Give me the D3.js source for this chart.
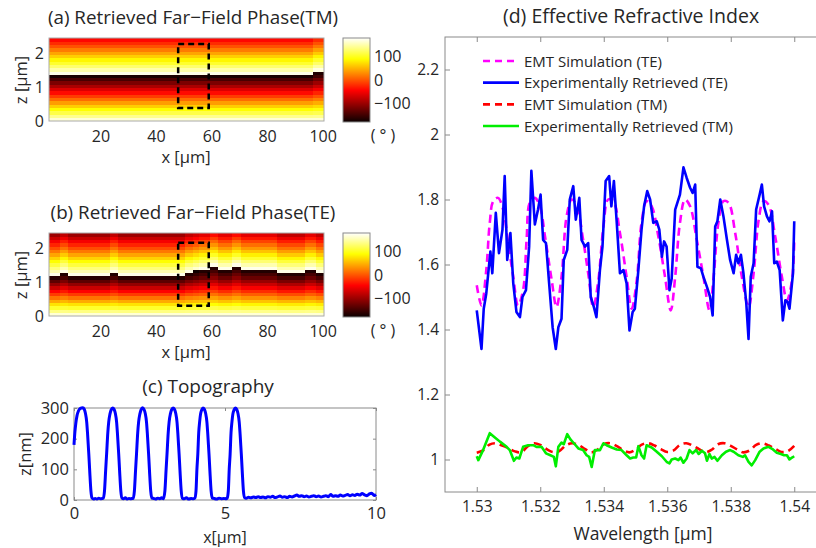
<!DOCTYPE html>
<html>
<head>
<meta charset="utf-8">
<script src="https://cdn.jsdelivr.net/npm/d3@7"></script>
<style>
  body { margin: 0; background: #fff; }
  svg { display: block; font-family: "Open Sans", sans-serif; }
</style>
</head>
<body>
<svg id="fig" width="816" height="548"></svg>
<script>
// ---------- data ----------
// far-field phase rows (degrees), bottom row (z = 0) first
const phaseRowsTM = [165, 140, 115, 90, 64, 38, 12, -14, -40, -65, -92, -118, -146, -172,
                     172, 150, 128, 106, 86, 64, 42, 20, -2, -22, -42];
const phaseRowsTE = [165, 135, 105, 75, 45, 15, -15, -45, -75, -105, -135, -165,
                     172, 152, 133, 112, 90, 66, 42, 18, -5, -27, -50, -75, -100];
// phase offset per x column range [xFrom, xTo, degrees]
const shiftTM = [[2, 96, 0], [97, 100, 20]];
const shiftTE = [[2, 5, 0], [6, 8, 20], [9, 23, 0], [24, 26, 20], [27, 50, 0], [51, 53, 20],
                 [54, 55, 30], [56, 59, 40], [60, 62, 60], [63, 67, 40], [68, 70, 60],
                 [71, 83, 40], [84, 93, 20], [94, 97, 40], [98, 100, 20]];
const phaseXTicks = [20, 40, 60, 80, 100];
const phaseZTicks = [0, 1, 2];
const phaseBarTicks = [-100, 0, 100];
// marked region [x0, x1, z0, z1]
const regionTM = [48, 59, 0.38, 2.26];
const regionTE = [48, 59, 0.30, 2.15];

// surface profile [x (um), z (nm)]
const topography = [
  [0,180],[0.03,222],[0.06,250],[0.1,275],[0.15,291],[0.21,299],[0.29,301],[0.34,296],[0.38,282],[0.42,255],
  [0.45,215],[0.49,150],[0.52,95],[0.56,30],[0.6,6],[0.65,3],[0.7,5],[0.76,3],[0.82,6],[0.88,4],[0.93,5],
  [0.97,6],[1.01,30],[1.05,100],[1.08,150],[1.12,220],[1.15,255],[1.19,280],[1.23,294],[1.28,300],[1.33,295],
  [1.37,282],[1.41,255],[1.44,215],[1.48,150],[1.51,95],[1.55,30],[1.59,6],[1.64,4],[1.7,7],[1.76,3],[1.82,5],
  [1.88,4],[1.93,6],[1.96,5],[2.0,30],[2.04,100],[2.07,150],[2.11,220],[2.14,255],[2.18,280],[2.22,294],
  [2.27,301],[2.32,295],[2.36,282],[2.4,255],[2.43,215],[2.47,150],[2.5,95],[2.54,30],[2.58,6],[2.64,5],
  [2.7,3],[2.77,6],[2.84,4],[2.9,7],[2.96,4],[3.01,30],[3.05,100],[3.08,150],[3.12,220],[3.15,255],
  [3.19,280],[3.23,294],[3.28,300],[3.33,295],[3.37,282],[3.41,255],[3.44,215],[3.48,150],[3.51,95],
  [3.55,30],[3.59,6],[3.65,4],[3.72,7],[3.8,3],[3.88,5],[3.95,4],[4.0,6],[4.04,30],[4.07,100],[4.1,150],
  [4.13,220],[4.16,255],[4.19,280],[4.23,294],[4.27,300],[4.32,295],[4.36,282],[4.4,255],[4.43,215],
  [4.47,150],[4.5,95],[4.54,30],[4.58,6],[4.64,5],[4.72,3],[4.8,6],[4.88,4],[4.96,5],[5.04,4],[5.07,6],
  [5.11,30],[5.14,100],[5.17,150],[5.2,220],[5.23,255],[5.26,280],[5.3,294],[5.34,300],[5.39,295],
  [5.43,282],[5.47,255],[5.5,215],[5.54,150],[5.57,95],[5.61,30],[5.65,8],[5.7,6],[5.78,9],[5.86,7],
  [5.94,10],[6.02,8],[6.1,11],[6.18,8],[6.26,10],[6.34,7],[6.42,11],[6.5,9],[6.58,12],[6.66,8],[6.74,10],
  [6.82,13],[6.9,9],[6.98,11],[7.06,8],[7.14,12],[7.22,10],[7.3,13],[7.38,16],[7.46,12],[7.54,14],
  [7.62,11],[7.7,13],[7.78,10],[7.86,12],[7.94,14],[8.02,11],[8.1,13],[8.18,10],[8.26,12],[8.34,14],
  [8.42,11],[8.5,18],[8.58,12],[8.66,14],[8.74,12],[8.82,16],[8.9,13],[8.98,15],[9.06,18],[9.14,14],
  [9.22,17],[9.3,15],[9.38,19],[9.46,16],[9.54,21],[9.62,17],[9.7,14],[9.78,20],[9.86,22],[9.94,15],[10,18]
];
const topoXTicks = [0, 5, 10];
const topoZTicks = [0, 100, 200, 300];

// effective refractive index vs wavelength (um)
const emtTE = [
  [1.5300,1.536],[1.53015,1.474],[1.5303,1.583],[1.53041,1.728],[1.53052,1.795],[1.53067,1.805],
  [1.53083,1.769],[1.53099,1.666],[1.53115,1.562],[1.5313,1.474],[1.53146,1.521],[1.53157,1.676],
  [1.53167,1.79],[1.53183,1.805],[1.53199,1.779],[1.53215,1.686],[1.53236,1.552],[1.53251,1.469],
  [1.53267,1.562],[1.53283,1.748],[1.53299,1.80],[1.53314,1.784],[1.53335,1.676],[1.53351,1.573],
  [1.53367,1.469],[1.53383,1.552],[1.53399,1.717],[1.53414,1.80],[1.5343,1.795],[1.53451,1.697],
  [1.53472,1.562],[1.53488,1.464],[1.53504,1.552],[1.53519,1.728],[1.53535,1.795],[1.53551,1.779],
  [1.53572,1.686],[1.53593,1.562],[1.53611,1.459],[1.53625,1.562],[1.5364,1.728],[1.53656,1.80],
  [1.53672,1.779],[1.53693,1.676],[1.53714,1.562],[1.53733,1.459],[1.53746,1.562],[1.53761,1.728],
  [1.53777,1.795],[1.53793,1.79],[1.53814,1.697],[1.53835,1.562],[1.53856,1.469],[1.53872,1.573],
  [1.53888,1.738],[1.53903,1.795],[1.53919,1.784],[1.5394,1.686],[1.53961,1.562],[1.53977,1.49],
  [1.53993,1.552],[1.5400,1.676]
];
const expTE = [
  [1.5300,1.459],[1.53015,1.340],[1.53022,1.464],[1.5303,1.511],[1.53043,1.640],[1.53049,1.573],
  [1.5306,1.759],[1.5307,1.635],[1.53081,1.707],[1.53088,1.872],[1.53096,1.614],[1.53106,1.697],
  [1.53115,1.542],[1.53125,1.454],[1.53136,1.438],[1.53144,1.500],[1.53155,1.521],[1.53165,1.655],
  [1.53172,1.888],[1.53183,1.723],[1.53193,1.769],[1.53201,1.815],[1.53209,1.676],[1.53218,1.666],
  [1.53228,1.542],[1.53239,1.407],[1.53249,1.340],[1.53257,1.407],[1.53267,1.433],[1.53274,1.614],
  [1.53285,1.645],[1.53293,1.800],[1.53304,1.841],[1.53312,1.738],[1.53323,1.805],[1.5333,1.676],
  [1.53341,1.655],[1.53351,1.666],[1.53359,1.500],[1.53369,1.469],[1.53377,1.438],[1.53388,1.583],
  [1.53396,1.655],[1.53406,1.857],[1.53417,1.872],[1.53424,1.779],[1.53432,1.857],[1.53441,1.728],
  [1.53451,1.573],[1.53462,1.583],[1.53472,1.542],[1.53481,1.397],[1.53491,1.454],[1.53498,1.464],
  [1.53509,1.583],[1.53519,1.707],[1.53527,1.779],[1.53537,1.826],[1.53546,1.800],[1.53556,1.728],
  [1.53567,1.733],[1.53575,1.707],[1.53583,1.624],[1.5359,1.671],[1.53598,1.655],[1.53607,1.521],
  [1.53614,1.557],[1.53625,1.769],[1.5364,1.815],[1.53651,1.899],[1.53661,1.867],[1.53672,1.836],
  [1.5368,1.820],[1.53688,1.846],[1.53695,1.593],[1.53706,1.588],[1.53714,1.562],[1.53725,1.531],
  [1.53735,1.500],[1.53743,1.443],[1.53751,1.717],[1.53758,1.733],[1.53767,1.800],[1.53777,1.748],
  [1.53788,1.676],[1.53798,1.614],[1.53809,1.573],[1.53817,1.630],[1.53824,1.604],[1.53832,1.630],
  [1.5384,1.573],[1.53849,1.480],[1.53856,1.371],[1.53863,1.562],[1.53872,1.604],[1.5388,1.769],
  [1.53891,1.815],[1.53898,1.846],[1.53905,1.779],[1.53914,1.748],[1.53922,1.733],[1.5393,1.764],
  [1.53937,1.604],[1.53945,1.609],[1.53954,1.583],[1.53964,1.428],[1.53972,1.490],[1.53979,1.485],
  [1.53985,1.464],[1.53996,1.573],[1.5400,1.733]
];
const emtTM = [
  [1.5300,1.021],[1.5302,1.028],[1.5304,1.046],[1.5306,1.050],[1.5308,1.043],[1.5310,1.035],
  [1.5312,1.025],[1.5314,1.022],[1.5316,1.040],[1.5318,1.050],[1.5320,1.045],[1.5322,1.032],
  [1.5324,1.023],[1.5326,1.026],[1.5328,1.043],[1.5330,1.050],[1.5332,1.045],[1.5334,1.033],
  [1.5336,1.022],[1.5338,1.030],[1.5340,1.047],[1.5342,1.050],[1.5344,1.042],[1.5346,1.030],
  [1.5348,1.022],[1.5350,1.030],[1.5352,1.046],[1.5354,1.050],[1.5356,1.043],[1.5358,1.032],
  [1.5360,1.023],[1.5362,1.028],[1.5364,1.045],[1.5366,1.050],[1.5368,1.043],[1.5370,1.032],
  [1.5372,1.022],[1.5374,1.030],[1.5376,1.047],[1.5378,1.050],[1.5380,1.042],[1.5382,1.031],
  [1.5384,1.022],[1.5386,1.028],[1.5388,1.045],[1.5390,1.050],[1.5392,1.043],[1.5394,1.033],
  [1.5396,1.023],[1.5398,1.026],[1.5400,1.042]
];
const expTM = [
  [1.5300,1.010],[1.53005,0.998],[1.5302,1.029],[1.53041,1.081],[1.53057,1.068],[1.53073,1.055],
  [1.53094,1.039],[1.53104,1.029],[1.53117,0.996],[1.53125,1.006],[1.53134,1.003],[1.53146,1.039],
  [1.53162,1.044],[1.53178,1.044],[1.53188,1.039],[1.53204,1.039],[1.53218,1.019],[1.53232,1.013],
  [1.53243,1.008],[1.53249,0.979],[1.53257,1.039],[1.53267,1.052],[1.53274,1.047],[1.53285,1.078],
  [1.53295,1.062],[1.53306,1.050],[1.5332,1.034],[1.53335,1.029],[1.53346,1.013],[1.53354,1.008],
  [1.53362,0.977],[1.53372,1.029],[1.53388,1.029],[1.53399,1.050],[1.53409,1.044],[1.53425,1.037],
  [1.53441,1.031],[1.53456,1.029],[1.53472,1.013],[1.53483,1.003],[1.53493,1.006],[1.53502,1.006],
  [1.53509,1.041],[1.53519,1.013],[1.53527,1.003],[1.53535,1.044],[1.53551,1.037],[1.53567,1.024],
  [1.53583,1.010],[1.53598,0.993],[1.53607,0.988],[1.53614,1.000],[1.53625,1.003],[1.53635,0.998],
  [1.53642,1.006],[1.53651,0.990],[1.53661,1.003],[1.5367,1.029],[1.5368,1.019],[1.53691,1.029],
  [1.53699,1.017],[1.53709,1.027],[1.53719,1.019],[1.53725,0.996],[1.53733,1.017],[1.5374,1.003],
  [1.53749,1.008],[1.53758,0.996],[1.53772,1.013],[1.53785,1.024],[1.53798,1.029],[1.53809,1.024],
  [1.53824,1.013],[1.53838,1.008],[1.53845,1.013],[1.53856,0.993],[1.53866,0.982],[1.53877,0.998],
  [1.53891,1.024],[1.53903,1.034],[1.53919,1.039],[1.53933,1.031],[1.53945,1.021],[1.53958,1.017],
  [1.53968,1.013],[1.53977,1.013],[1.53985,1.000],[1.53993,1.006],[1.5400,1.010]
];
const lambdaTicks = [1.53, 1.532, 1.534, 1.536, 1.538, 1.54];
const indexTicks = [1, 1.2, 1.4, 1.6, 1.8, 2, 2.2];
const legendLabels = ["EMT Simulation (TE)", "Experimentally Retrieved (TE)",
                      "EMT Simulation (TM)", "Experimentally Retrieved (TM)"];

// ---------- drawing ----------
const svg = d3.select("#fig");
const ink = "#262626";
const frameCol = "#8a8a8a";

function styleAxis(g, fs) {
  g.select(".domain").remove();
  g.selectAll("line").attr("stroke", frameCol);
  g.selectAll("text").attr("fill", ink)
    .style("font-size", fs + "px").style("font-family", '"Open Sans", sans-serif');
}
function label(x, y, txt, fs, anchor = "middle", rot = 0) {
  const t = svg.append("text").attr("fill", ink).style("font-size", fs + "px")
    .attr("text-anchor", anchor).text(txt);
  if (rot) t.attr("transform", `translate(${x},${y}) rotate(${rot})`);
  else t.attr("x", x).attr("y", y);
  return t;
}

// MATLAB-style "hot" map over [-180, 180]
const hot = d3.scaleLinear()
  .domain([-180, -45, 90, 180])
  .range(["#0b0000", "#ff0000", "#ffff00", "#ffffff"])
  .clamp(true);
const wrap = v => ((((v + 180) % 360) + 360) % 360) - 180;

const defs = svg.append("defs");
const grad = defs.append("linearGradient").attr("id", "hotbar")
  .attr("x1", 0).attr("y1", 1).attr("x2", 0).attr("y2", 0);
hot.domain().forEach(d => grad.append("stop")
  .attr("offset", (d + 180) / 360).attr("stop-color", hot(d)));

function phasePanel(top, rows, shifts, region, title) {
  const L = 49, R = 324, H = 83;
  const x = d3.scaleLinear().domain([1.5, 100.5]).range([L, R]);
  const y = d3.scaleLinear().domain([0, 2.44]).range([top + H, top]);
  const rowBand = d3.scaleBand().domain(d3.range(rows.length)).range([top + H, top]);
  const cols = d3.range(2, 101);
  const shiftAt = c => shifts.find(s => c >= s[0] && c <= s[1])[2];
  const cells = [];
  // the column offset grows from nothing at the substrate to full size near the wrap
  cols.forEach(c => rows.forEach((p, r) =>
    cells.push({ c, r, v: wrap(p + shiftAt(c) * Math.min(1, r / 12)) })));

  const g = svg.append("g");
  g.selectAll("rect").data(cells).join("rect")
    .attr("x", d => x(d.c - 0.5)).attr("y", d => rowBand(d.r))
    .attr("width", d => x(d.c + 0.5) - x(d.c - 0.5) + 0.3)
    .attr("height", rowBand.bandwidth() + 0.3)
    .attr("fill", d => hot(d.v))
    .attr("shape-rendering", "crispEdges");
  svg.append("rect").attr("x", L).attr("y", top).attr("width", R - L).attr("height", H)
    .attr("fill", "none").attr("stroke", "#aaaaaa").attr("stroke-width", 1);

  // marked region
  svg.append("rect")
    .attr("x", x(region[0])).attr("y", y(region[3]))
    .attr("width", x(region[1]) - x(region[0])).attr("height", y(region[2]) - y(region[3]))
    .attr("fill", "none").attr("stroke", "#000").attr("stroke-width", 2.5)
    .attr("stroke-dasharray", "6,4");

  const ax = svg.append("g").attr("transform", `translate(0,${top + H})`)
    .call(d3.axisBottom(x).tickValues(phaseXTicks).tickSize(0).tickPadding(9.5));
  styleAxis(ax, 16);
  const az = svg.append("g").attr("transform", `translate(${L},0)`)
    .call(d3.axisLeft(y).tickValues(phaseZTicks).tickFormat(d3.format("d")).tickSize(0).tickPadding(5));
  styleAxis(az, 16);

  // colour bar
  const cb = d3.scaleLinear().domain([-180, 180]).range([top + H + 1, top]);
  svg.append("rect").attr("x", 343).attr("y", top).attr("width", 27).attr("height", H + 1)
    .attr("fill", "url(#hotbar)").attr("stroke", frameCol);
  const ac = svg.append("g").attr("transform", "translate(370,0)")
    .call(d3.axisRight(cb).tickValues(phaseBarTicks).tickSize(0).tickPadding(4));
  styleAxis(ac, 16);
  label(383, top + 103, "( ° )", 16);

  label(193, top - 14, title, 18.8);
  label(186, top + 125, "x [µm]", 16.5);
  label(27, top + 42, "z [µm]", 16.5, "middle", -90);
}

phasePanel(38, phaseRowsTM, shiftTM, regionTM, "(a) Retrieved Far\u2212Field Phase(TM)");
phasePanel(233, phaseRowsTE, shiftTE, regionTE, "(b) Retrieved Far\u2212Field Phase(TE)");

// (c) topography
{
  const L = 74, R = 376, T = 408, B = 500;
  const x = d3.scaleLinear().domain([0, 10]).range([L, R]);
  const y = d3.scaleLinear().domain([0, 300]).range([B, T]);
  svg.append("rect").attr("x", L).attr("y", T).attr("width", R - L).attr("height", B - T)
    .attr("fill", "none").attr("stroke", frameCol);
  const ax = svg.append("g").attr("transform", `translate(0,${B})`)
    .call(d3.axisBottom(x).tickValues(topoXTicks).tickSizeInner(-3).tickSizeOuter(0).tickPadding(7.5));
  styleAxis(ax, 16.5);
  const axT = svg.append("g").attr("transform", `translate(0,${T})`)
    .call(d3.axisTop(x).tickValues(topoXTicks).tickSizeInner(-3).tickSizeOuter(0).tickFormat(""));
  styleAxis(axT, 16.5);
  const ay = svg.append("g").attr("transform", `translate(${L},0)`)
    .call(d3.axisLeft(y).tickValues(topoZTicks).tickSizeInner(-3).tickSizeOuter(0).tickPadding(5));
  styleAxis(ay, 16.5);
  const ayR = svg.append("g").attr("transform", `translate(${R},0)`)
    .call(d3.axisRight(y).tickValues(topoZTicks).tickSizeInner(-3).tickSizeOuter(0).tickFormat(""));
  styleAxis(ayR, 16.5);

  svg.append("path").datum(topography)
    .attr("d", d3.line().x(d => x(d[0])).y(d => y(d[1])).curve(d3.curveMonotoneX))
    .attr("fill", "none").attr("stroke", "#0000ff").attr("stroke-width", 3)
    .attr("stroke-linejoin", "round");

  label(208, 393, "(c) Topography", 19);
  label(225, 542.5, "x[µm]", 16);
  label(31, 454, "z[nm]", 16.5, "middle", -90);
}

// (d) effective refractive index
{
  const L = 445, R = 826, T = 37, B = 492;
  const x = d3.scaleLinear().domain([1.529, 1.541]).range([L, R]);
  const y = d3.scaleLinear().domain([0.9, 2.3]).range([B, T]);
  svg.append("rect").attr("x", L).attr("y", T).attr("width", R - L).attr("height", B - T)
    .attr("fill", "none").attr("stroke", frameCol);
  const ax = svg.append("g").attr("transform", `translate(0,${B})`)
    .call(d3.axisBottom(x).tickValues(lambdaTicks).tickFormat(d3.format("~g"))
      .tickSizeInner(-5).tickSizeOuter(0).tickPadding(9));
  styleAxis(ax, 15.5);
  const axT = svg.append("g").attr("transform", `translate(0,${T})`)
    .call(d3.axisTop(x).tickValues(lambdaTicks).tickSizeInner(-5).tickSizeOuter(0).tickFormat(""));
  styleAxis(axT, 15.5);
  const ay = svg.append("g").attr("transform", `translate(${L},0)`)
    .call(d3.axisLeft(y).tickValues(indexTicks).tickFormat(d3.format("~g"))
      .tickSizeInner(-5).tickSizeOuter(0).tickPadding(6));
  styleAxis(ay, 15.5);

  const line = d3.line().x(d => x(d[0])).y(d => y(d[1]));
  const smooth = d3.line().x(d => x(d[0])).y(d => y(d[1])).curve(d3.curveCatmullRom);
  const series = [
    { data: emtTE, color: "#ff00ff", dash: "8,5", gen: smooth },
    { data: expTE, color: "#0000ff", dash: null, gen: line },
    { data: emtTM, color: "#ff0000", dash: "8,5", gen: smooth },
    { data: expTM, color: "#00ee00", dash: null, gen: line }
  ];
  series.forEach(s => {
    svg.append("path").datum(s.data).attr("d", s.gen)
      .attr("fill", "none").attr("stroke", s.color).attr("stroke-width", 2.6)
      .attr("stroke-linejoin", "round")
      .attr("stroke-dasharray", s.dash);
  });

  // legend
  const ly = d3.scalePoint().domain(legendLabels).range([61, 126]);
  series.forEach((s, i) => {
    const yy = ly(legendLabels[i]);
    svg.append("line").attr("x1", 483).attr("x2", 519).attr("y1", yy).attr("y2", yy)
      .attr("stroke", s.color).attr("stroke-width", 2.6).attr("stroke-dasharray", s.dash ? "7,5" : null);
    label(524, yy + 5.5, legendLabels[i], 15, "start");
  });

  label(631, 23, "(d) Effective Refractive Index", 19.5);
  label(643, 540, "Wavelength [µm]", 17.5);
}
</script>
</body>
</html>
